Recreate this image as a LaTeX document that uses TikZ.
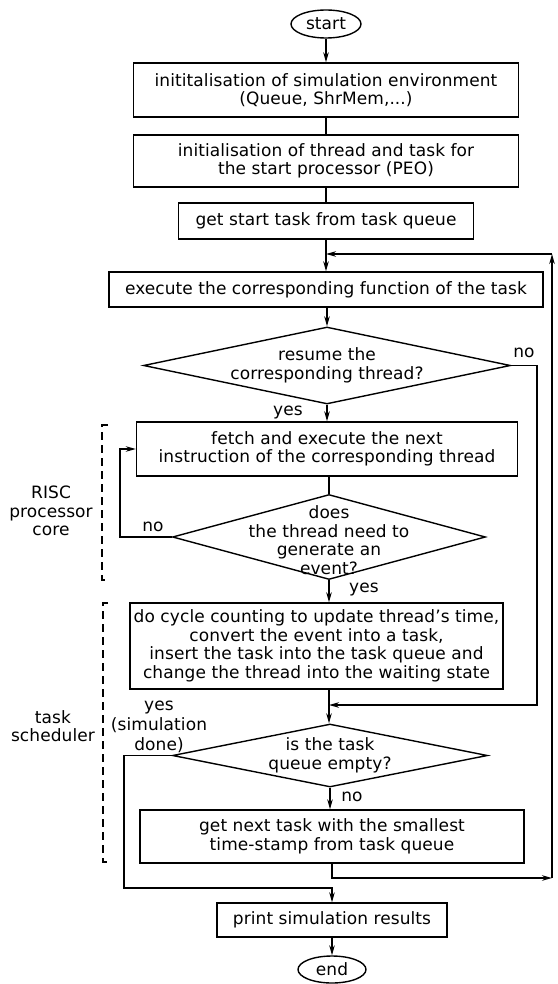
\documentclass[tikz,border=0pt]{standalone}
\usepackage{fontspec}
\setmainfont{DejaVu Sans}[LetterSpace=0.5]
\usetikzlibrary{shapes.geometric,arrows.meta}
\begin{document}
\begin{tikzpicture}[x=1pt,y=-1pt,
  every node/.style={font=\fontsize{17}{18.5}\selectfont},
  box/.style={draw, line width=1.4pt, rectangle, inner sep=0pt, align=center},
  dia/.style={draw, line width=1.4pt, diamond, inner sep=0pt},
  term/.style={draw, line width=1.4pt, ellipse, inner sep=0pt},
  line/.style={line width=1.4pt},
  arr/.style={line width=1.4pt, -{Stealth[length=10pt,width=5.5pt]}},
  lbl/.style={inner sep=0pt, align=center},
  bracket/.style={line width=1.1pt, dash pattern=on 8pt off 5pt}
]
\useasboundingbox (0,0) rectangle (557,984);

% nodes
\node[term, minimum width=70pt, minimum height=28pt] (start) at (326,24) {start};
\node[box, minimum width=385pt, minimum height=54pt] (b1) at (326,90)
  {inititalisation of simulation environment\\(Queue, ShrMem,...)};
\node[box, minimum width=385pt, minimum height=52pt] (b2) at (326,161)
  {initialisation of thread and task for\\the start processor (PEO)};
\node[box, minimum width=295pt, minimum height=36pt] (b3) at (326,221)
  {get start task from task queue};
\coordinate (j1) at (326,254);
\node[box, minimum width=434pt, minimum height=35pt] (ex) at (326,289.5)
  {execute the corresponding function of the task};
\node[dia, minimum width=367pt, minimum height=77pt] (d1) at (327,365.5) {};
\node[lbl] (d1t) at (d1) {resume the\\corresponding thread?};
\node[box, minimum width=381pt, minimum height=54pt] (fe) at (327,449)
  {fetch and execute the next\\instruction of the corresponding thread};
\node[dia, minimum width=313pt, minimum height=85pt] (d2) at (329,537) {};
\node[lbl] (d2t) at (329,540) {does\\the thread need to\\generate an\\event?};
\node[box, minimum width=373pt, minimum height=86pt] (b4) at (316.5,646)
  {do cycle counting to update thread's time,\\convert the event into a task,\\insert the task into the task queue and\\change the thread into the waiting state};
\coordinate (j2) at (329,705);
\node[dia, minimum width=315pt, minimum height=63pt] (d3) at (330,755.5) {};
\node[lbl] (d3t) at (d3) {is the task\\queue empty?};
\node[box, minimum width=384pt, minimum height=53pt] (b5) at (332,836.5)
  {get next task with the smallest\\time-stamp from task queue};
\node[box, minimum width=230pt, minimum height=34pt] (pr) at (332,920)
  {print simulation results};
\node[term, minimum width=68pt, minimum height=27pt] (end) at (332,969.5) {end};

% corner coordinates
\coordinate (nr) at (537,705);
\coordinate (ex1) at (552,878);
\coordinate (ex2) at (552,254);
\coordinate (lp) at (120,537);
\coordinate (yc) at (124,888);

% connectors
\draw[arr] (start) -- (b1);
\draw[line] (b1) -- (b2);
\draw[line] (b2) -- (b3);
\draw[line] (b3) -- (j1);
\draw[arr] (j1) -- (ex.north -| j1);
\draw[arr] (ex.south -| d1) -- (d1);
\draw[arr] (d1.south) -- (fe.north -| d1);
\draw[line] (fe.south -| d2) -- (d2.north);
\draw[arr] (d2.south) -- (b4.north -| d2);
\draw[arr] (d2.west) -- (lp) |- (fe.west);
\draw[arr] (d1.east) -| (nr) -- (j2);
\draw[line] (b4.south -| j2) -- (j2);
\draw[arr] (j2) -- (d3.north -| j2);
\draw[arr] (d3.south) -- (b5.north -| d3);
\draw[arr] (b5.south) |- (ex1);
\draw[arr] (ex1) -- (ex2);
\draw[arr] (ex2) -- (j1);
\draw[arr] (d3.west) -| (yc) -| (pr.north);
\draw[arr] (pr) -- (end);

% labels
\node[lbl] (l1) at (524,353) {no};
\node[lbl] (l2) at (288,413) {yes};
\node[lbl] (l3) at (153,527) {no};
\node[lbl] (l4) at (364,590) {yes};
\node[lbl, font=\fontsize{17}{20}\selectfont] (l5) at (159,727) {yes\\(simulation\\done)};
\node[lbl] (l6) at (352,797) {no};
\node[lbl] (risc) at (51,511) {RISC\\processor\\core};
\node[lbl] (ts) at (53,726) {task\\scheduler};

% dashed brackets
\draw[bracket] (108,425) -- (102,425) -- (102,580) -- (108,580);
\draw[bracket] (108,603) -- (103,603) -- (103,862) -- (109,862);
\end{tikzpicture}
\end{document}
